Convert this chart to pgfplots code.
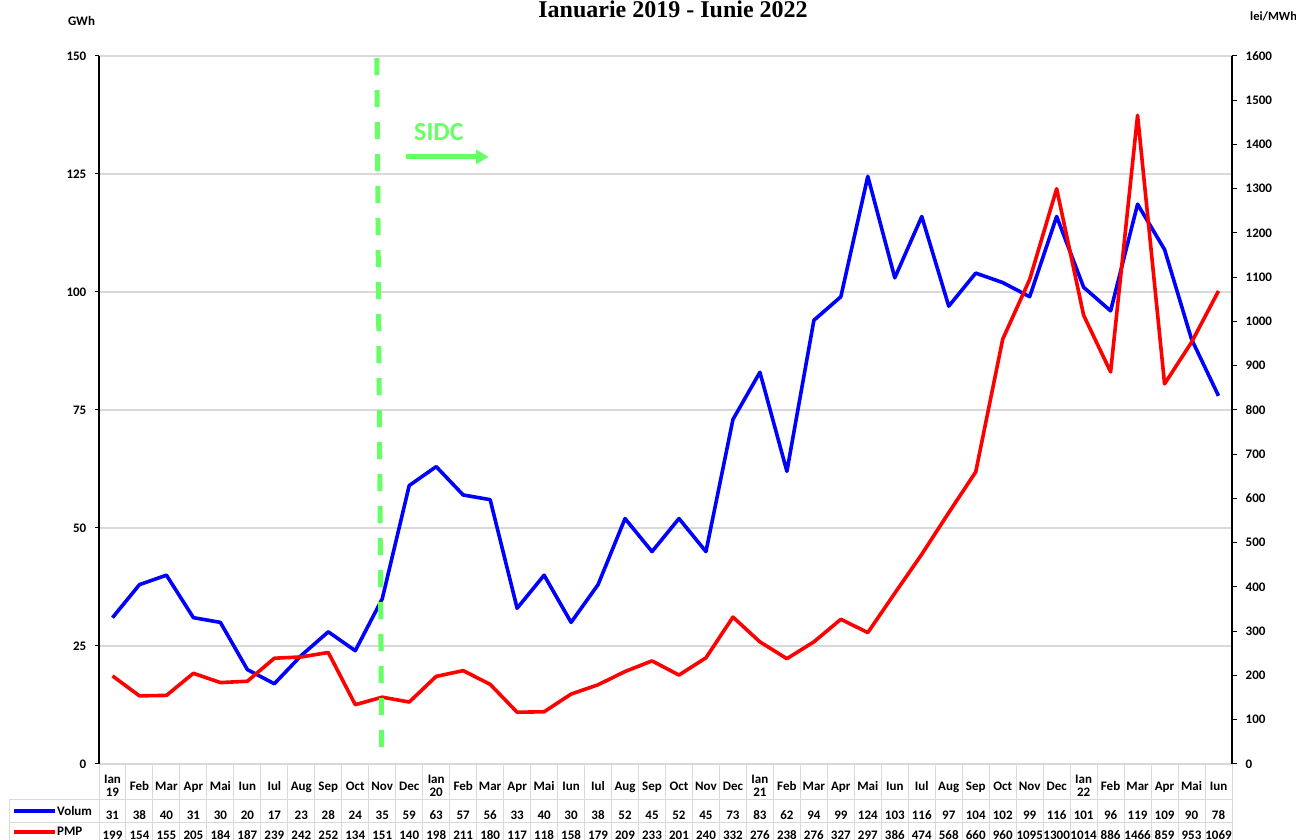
\documentclass[border=0pt]{standalone}
\usepackage{pgfplots}
\pgfplotsset{compat=1.18}
\usepackage{fontspec}
\setmainfont{Carlito}
\newfontfamily\titlefont{Liberation Serif}
\usetikzlibrary{arrows.meta}

\definecolor{gridgray}{RGB}{217,217,217}
\definecolor{sidc}{RGB}{102,255,102}

\newlength\cw \setlength\cw{26.976pt}
\newcommand\cl[1]{\hbox to \cw{\hss\vrule height 9pt depth 2pt width 0pt\relax #1\hss}}
\newcommand\TA[4]{\vbox{\offinterlineskip\vbox to 36pt{\vss\cl{#1}\vskip2pt\cl{#2}\vss}\vbox to 23pt{\vss\cl{#3}\vss}\vbox to 16pt{\vss\cl{#4}\vss}}}
\newcommand\TB[3]{\vbox{\offinterlineskip\vbox to 36pt{\vss\cl{#1}\vss}\vbox to 23pt{\vss\cl{#2}\vss}\vbox to 16pt{\vss\cl{#3}\vss}}}

\pgfplotstableread{
i vol pmp
0 31 199
1 38 154
2 40 155
3 31 205
4 30 184
5 20 187
6 17 239
7 23 242
8 28 252
9 24 134
10 35 151
11 59 140
12 63 198
13 57 211
14 56 180
15 33 117
16 40 118
17 30 158
18 38 179
19 52 209
20 45 233
21 52 201
22 45 240
23 73 332
24 83 276
25 62 238
26 94 276
27 99 327
28 124.5 297
29 103 386
30 116 474
31 97 568
32 104 660
33 102 960
34 99 1095
35 116 1300
36 101 1014
37 96 886
38 118.6 1466
39 109 859
40 90 953
41 78 1069
}\datatable

\begin{document}
\begin{tikzpicture}
\useasboundingbox (0,0) rectangle (1296pt,840pt);

\begin{axis}[
  at={(99pt,76pt)}, anchor=south west, scale only axis,
  width=1133pt, height=708pt,
  xmin=-0.5, xmax=41.5, ymin=0, ymax=150,
  axis lines*=left,
  x axis line style={draw=gridgray, line width=1.2pt},
  y axis line style={black, line width=1.2pt},
  xtick={0,...,41},
  xticklabels={\TA{Ian}{19}{31}{199},\TB{Feb}{38}{154},\TB{Mar}{40}{155},\TB{Apr}{31}{205},\TB{Mai}{30}{184},\TB{Iun}{20}{187},\TB{Iul}{17}{239},\TB{Aug}{23}{242},\TB{Sep}{28}{252},\TB{Oct}{24}{134},\TB{Nov}{35}{151},\TB{Dec}{59}{140},
  \TA{Ian}{20}{63}{198},\TB{Feb}{57}{211},\TB{Mar}{56}{180},\TB{Apr}{33}{117},\TB{Mai}{40}{118},\TB{Iun}{30}{158},\TB{Iul}{38}{179},\TB{Aug}{52}{209},\TB{Sep}{45}{233},\TB{Oct}{52}{201},\TB{Nov}{45}{240},\TB{Dec}{73}{332},
  \TA{Ian}{21}{83}{276},\TB{Feb}{62}{238},\TB{Mar}{94}{276},\TB{Apr}{99}{327},\TB{Mai}{124}{297},\TB{Iun}{103}{386},\TB{Iul}{116}{474},\TB{Aug}{97}{568},\TB{Sep}{104}{660},\TB{Oct}{102}{960},\TB{Nov}{99}{1095},\TB{Dec}{116}{1300},
  \TA{Ian}{22}{101}{1014},\TB{Feb}{96}{886},\TB{Mar}{119}{1466},\TB{Apr}{109}{859},\TB{Mai}{90}{953},\TB{Iun}{78}{1069}},
  xticklabel style={anchor=north, inner sep=0pt, font=\fontsize{13}{14}\selectfont\bfseries},
  x tick style={draw=none},
  ytick={0,25,...,150},
  ytick style={black, line width=1pt},
  tick align=outside, major tick length=4.5pt,
  yticklabel style={font=\fontsize{13}{15}\selectfont\bfseries, inner sep=0pt, xshift=-8pt},
  /pgf/number format/assume math mode=true,
  /pgf/number format/1000 sep={},
  scaled ticks=false,
  ymajorgrids, grid style={gridgray, line width=1.3pt},
]
\addplot[blue, line width=3.6pt, line join=round] table[x=i, y=vol] {\datatable};
\end{axis}

\begin{axis}[
  at={(99pt,76pt)}, anchor=south west, scale only axis,
  width=1133pt, height=708pt,
  xmin=-0.5, xmax=41.5, ymin=0, ymax=1600,
  axis x line=none,
  axis y line*=right,
  y axis line style={black, line width=1.2pt},
  xtick=\empty,
  ytick={0,100,...,1600},
  ytick style={black, line width=1pt},
  tick align=outside, major tick length=4.5pt,
  yticklabel style={font=\fontsize{13}{15}\selectfont\bfseries, inner sep=0pt, xshift=9pt},
  /pgf/number format/assume math mode=true,
  /pgf/number format/1000 sep={},
  scaled ticks=false,
]
\addplot[red, line width=3.6pt, line join=round] table[x=i, y=pmp] {\datatable};
\draw[sidc, line width=5pt, dash pattern=on 17pt off 15pt] (axis cs:9.80,1595) -- (axis cs:9.98,36);
\draw[sidc, line width=5pt, -{Triangle[length=13pt,width=14pt]}] (axis cs:10.87,1372) -- (axis cs:13.95,1372);
\node[sidc, font=\fontsize{26}{30}\selectfont\bfseries] at (axis cs:12.1,1427) {SIDC};
\end{axis}

% table grid
\foreach \k in {0,...,42} {
  \draw[gridgray, line width=1pt] ({99pt+\k*26.976pt},76pt) -- ({99pt+\k*26.976pt},0pt);
}
\draw[gridgray, line width=1pt] (9pt,40pt) -- (1232pt,40pt);
\draw[gridgray, line width=1pt] (9pt,17pt) -- (1232pt,17pt);
\draw[gridgray, line width=1pt] (9pt,40pt) -- (9pt,0pt);
\draw[blue, line width=3.6pt] (14pt,29pt) -- (55pt,29pt);
\node[anchor=west, inner sep=0pt, font=\fontsize{13}{14}\selectfont\bfseries] at (57pt,29pt) {Volum};
\draw[red, line width=3.6pt] (14pt,8pt) -- (55pt,8pt);
\node[anchor=west, inner sep=0pt, font=\fontsize{13}{14}\selectfont\bfseries] at (57pt,8.5pt) {PMP};

% titles
\node[anchor=base, inner sep=0pt, font=\titlefont\bfseries\fontsize{24}{28}\selectfont] at (673pt,822pt) {Ianuarie 2019 - Iunie 2022};
\node[anchor=base, inner sep=0pt, font=\fontsize{13}{15}\selectfont\bfseries] at (81.5pt,814pt) {GWh};
\node[anchor=base west, inner sep=0pt, font=\fontsize{12.5}{15}\selectfont\bfseries] at (1250pt,819pt) {lei/MWh};
\end{tikzpicture}
\end{document}
